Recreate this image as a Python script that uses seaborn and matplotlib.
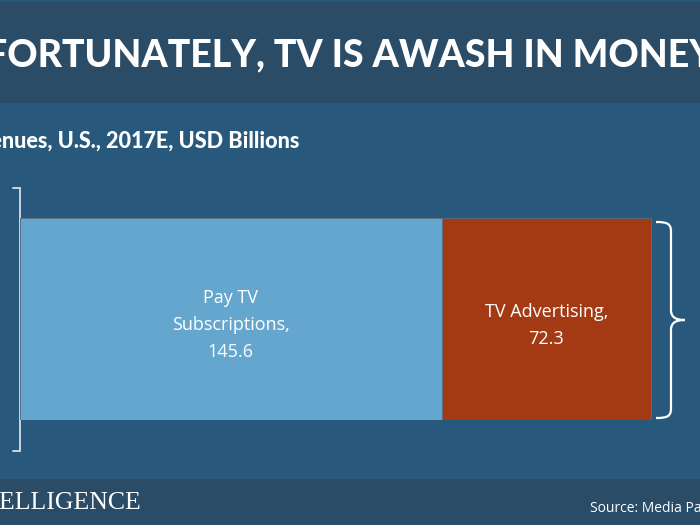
import matplotlib
matplotlib.use("Agg")
import matplotlib.pyplot as plt
from matplotlib.patches import Rectangle, PathPatch
from matplotlib.path import Path
import seaborn as sns
import pandas as pd

# ---- data ----
segments = ["Pay TV\nSubscriptions,", "TV Advertising,"]
values = [145.6, 72.3]
title = "FORTUNATELY, TV IS AWASH IN MONEY"
subtitle = "TV Revenues, U.S., 2017E, USD Billions"
brand = "INTELLIGENCE"
source = "Source: Media Partners Asia"

# ---- colours ----
BG = "#28597d"
DARK = "#2b4c66"
BLUE = "#64a6ce"
RUST = "#a43a14"
BRACKET = "#c9d6e0"

sns.set_theme(style="white")
plt.rcParams["font.family"] = ["Lato", "DejaVu Sans"]

W, H = 700, 525
fig = plt.figure(figsize=(7, 5.25), dpi=100, facecolor=BG)

# background / decoration axes in pixel coordinates
bg = fig.add_axes([0, 0, 1, 1], zorder=0)
bg.set_xlim(0, W)
bg.set_ylim(H, 0)
bg.axis("off")
bg.set_facecolor(BG)
bg.add_patch(Rectangle((0, 2), W, 101, color=DARK, lw=0))
bg.add_patch(Rectangle((0, 479), W, 46, color=DARK, lw=0))

bg.text(350, 55, title, color="white", fontsize=27, fontweight="black",
        ha="center", va="center", family=["Lato", "DejaVu Sans"], clip_on=True)
bg.text(299, 141, subtitle, color="white", fontsize=15.6, fontweight="black",
        ha="right", va="center", clip_on=True)
bg.text(141, 503, brand, color="white", fontsize=18.5,
        ha="right", va="center", family=["Liberation Serif", "DejaVu Serif"], clip_on=True)
bg.text(590, 509, source, color="white", fontsize=10,
        ha="left", va="center", family=["Open Sans", "DejaVu Sans"], clip_on=True)

# left bracket
bg.plot([13, 20, 20, 13], [188, 188, 451, 451], color=BRACKET, lw=1.4,
        solid_joinstyle="miter")

# right curly brace
verts = [
    (656, 222), (668, 222), (671, 224), (671, 232),
    (671, 310),
    (671, 316), (674, 320), (685, 320),
    (674, 320), (671, 324), (671, 330),
    (671, 408),
    (671, 416), (668, 418), (656, 418),
]
codes = [Path.MOVETO, Path.CURVE4, Path.CURVE4, Path.CURVE4,
         Path.LINETO,
         Path.CURVE4, Path.CURVE4, Path.CURVE4,
         Path.CURVE4, Path.CURVE4, Path.CURVE4,
         Path.LINETO,
         Path.CURVE4, Path.CURVE4, Path.CURVE4]
bg.add_patch(PathPatch(Path(verts, codes), fill=False, edgecolor="white", lw=1.6))

# ---- stacked bar ----
x0_px, x1_px = 20, 700
scale = (651 - 20) / sum(values)  # px per billion
ax = fig.add_axes([x0_px / W, 1 - 420 / H, (x1_px - x0_px) / W, 202 / H], zorder=2)
ax.patch.set_alpha(0)

total = sum(values)
df_total = pd.DataFrame({"v": [total], "c": ["bar"]})
df_pay = pd.DataFrame({"v": [values[0]], "c": ["bar"]})
sns.barplot(data=df_total, x="v", y="c", color=RUST, saturation=1, width=1,
            ax=ax, edgecolor="#5a6f80", linewidth=0.6)
sns.barplot(data=df_pay, x="v", y="c", color=BLUE, saturation=1, width=1,
            ax=ax, edgecolor="#5a6f80", linewidth=0.6)
ax.set_xlim(0, (x1_px - x0_px) / scale)
ax.set_ylim(0.5, -0.5)
ax.axis("off")

# labels
ax.text(values[0] / 2, 0.03, f"{segments[0]}\n{values[0]}", color="white",
        ha="center", va="center", fontsize=13, linespacing=1.65,
        family=["Open Sans", "DejaVu Sans"])
ax.text(values[0] + values[1] / 2, 0.03, f"{segments[1]}\n{values[1]}", color="white",
        ha="center", va="center", fontsize=13, linespacing=1.65,
        family=["Open Sans", "DejaVu Sans"])

fig.savefig("out.png", dpi=100, facecolor=BG)
